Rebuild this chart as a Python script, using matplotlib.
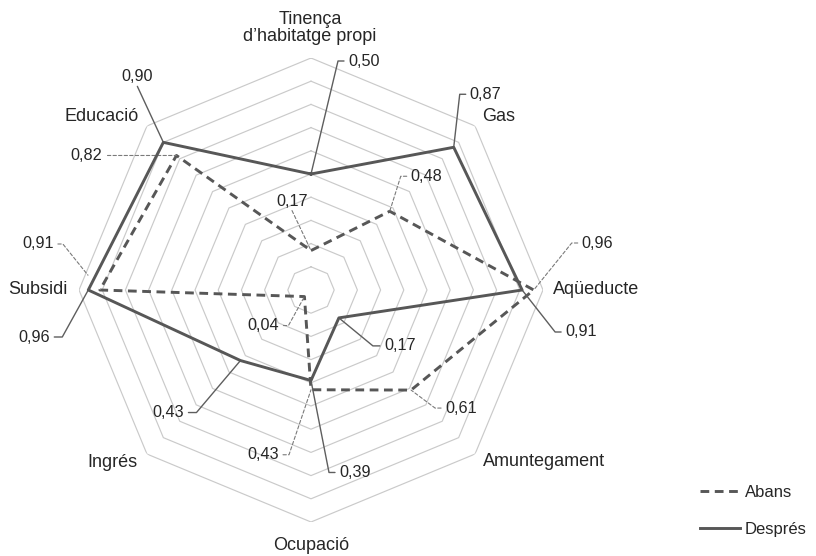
import numpy as np
import matplotlib
matplotlib.use("Agg")
import matplotlib.pyplot as plt

# ---- data ----
categories = ["Tinença\nd’habitatge propi", "Gas", "Aqüeducte", "Amuntegament",
              "Ocupació", "Ingrés", "Subsidi", "Educació"]
abans = [0.17, 0.48, 0.96, 0.61, 0.43, 0.04, 0.91, 0.82]
despres = [0.50, 0.87, 0.91, 0.17, 0.39, 0.43, 0.96, 0.90]
series_names = ["Abans", "Després"]
ring_levels = [0.1, 0.2, 0.3, 0.4, 0.5, 0.6, 0.7, 0.8, 0.9, 1.0]

# ---- style / layout ----
plt.rcParams["font.family"] = ["Liberation Sans", "DejaVu Sans"]
LINE_C = "#575757"
TEXT_C = "#262626"
GRID_C = "#cacaca"
W, H = 816, 556
CX, CY, R = 311, 290, 232  # centre and radius in pixels (y from top)

# label layouts: (mode, dx, dy, tick, gap_to_point) in pixels, y up
abans_layout = [("up", -19, 40, 0, 0), ("r", 11, 35, 6, 0), ("r", 38, 47, 6, 0),
                ("r", 24, -18, 6, 0), ("l", -22, -65, 6, 0), ("l", -16, -29, 5, 0),
                ("l", -37, 46, 5, 19), ("h", -69, 0, 0, 0)]
despres_layout = [("r", 27, 113, 6, 0), ("r", 6, 53, 6, 0), ("r", 33, -42, 6, 0),
                  ("r", 34, -28, 7, 0), ("r", 18, -92, 6, 0), ("l", -44, -52, 8, 0),
                  ("l", -26, -47, 8, 0), ("up", -26, 56, 0, 0)]
# category label offsets from outer vertex: (dx, dy, ha)
cat_layout = [(-1, 30, "center"), (7, 9, "left"), (10, 0, "left"), (8, -7, "left"),
              (0, -23, "center"), (-9, -8, "right"), (-11, 0, "right"), (-8, 9, "right")]

fig = plt.figure(figsize=(W / 100, H / 100), dpi=100)
ax = fig.add_axes([(CX - R) / W, (H - CY - R) / H, 2 * R / W, 2 * R / H], projection="polar")
ax.set_theta_zero_location("N")
ax.set_theta_direction(-1)
ax.set_ylim(0, 1)
ax.set_xticks([])
ax.set_yticks([])
ax.grid(False)
ax.spines["polar"].set_visible(False)
ax.patch.set_alpha(0)

n = len(categories)
theta = np.linspace(0, 2 * np.pi, n, endpoint=False)
theta_c = np.append(theta, theta[0])

for lv in ring_levels:
    ax.plot(theta_c, [lv] * (n + 1), color=GRID_C, lw=0.85, zorder=1)

l_ab, = ax.plot(theta_c, abans + abans[:1], color=LINE_C, lw=2.1,
                linestyle=(0, (3.0, 1.9)), zorder=3, label=series_names[0])
l_de, = ax.plot(theta_c, despres + despres[:1], color=LINE_C, lw=2.1,
                zorder=4, label=series_names[1])


def fmt(v):
    return f"{v:.2f}".replace(".", ",")


def add_labels(values, layout, dashed):
    lprops = dict(arrowstyle="-", color="#7a7a7a" if dashed else "#5e5e5e",
                  lw=0.8 if dashed else 1.0, shrinkA=0)
    if dashed:
        lprops["linestyle"] = (0, (3, 2))
    for t, v, (mode, dx, dy, tick, gap) in zip(theta, values, layout):
        props = dict(lprops, shrinkB=gap * 0.72)
        if mode in ("r", "l"):
            s = 1 if mode == "r" else -1
            ang = np.degrees(np.arctan2(dy, dx))
            props["connectionstyle"] = f"angle,angleA=0,angleB={ang:.2f},rad=0"
            ax.annotate("", xy=(t, v), xycoords="data", xytext=(dx + s * tick, dy),
                        textcoords="offset pixels", arrowprops=props, annotation_clip=False)
            ax.annotate(fmt(v), xy=(t, v), xycoords="data",
                        xytext=(dx + s * (tick + 4), dy), textcoords="offset pixels",
                        ha="left" if s > 0 else "right", va="center", fontsize=11.7,
                        color=TEXT_C, annotation_clip=False)
        elif mode == "h":
            ax.annotate("", xy=(t, v), xycoords="data", xytext=(dx, dy),
                        textcoords="offset pixels", arrowprops=props, annotation_clip=False)
            ax.annotate(fmt(v), xy=(t, v), xycoords="data", xytext=(dx - 5, dy),
                        textcoords="offset pixels", ha="right", va="center",
                        fontsize=11.7, color=TEXT_C, annotation_clip=False)
        else:  # up
            ax.annotate("", xy=(t, v), xycoords="data", xytext=(dx, dy),
                        textcoords="offset pixels", arrowprops=props, annotation_clip=False)
            ax.annotate(fmt(v), xy=(t, v), xycoords="data", xytext=(dx, dy + 2),
                        textcoords="offset pixels", ha="center", va="bottom",
                        fontsize=11.7, color=TEXT_C, annotation_clip=False)


add_labels(abans, abans_layout, True)
add_labels(despres, despres_layout, False)

for t, lab, (dx, dy, ha) in zip(theta, categories, cat_layout):
    ax.annotate(lab, xy=(t, 1.0), xycoords="data", xytext=(dx, dy),
                textcoords="offset pixels", ha=ha, va="center", fontsize=13,
                color=TEXT_C, linespacing=1.05, annotation_clip=False)

fig.legend(handles=[l_ab, l_de], labels=series_names, loc="upper left",
           bbox_to_anchor=(700 / W, 1 - 485 / H), frameon=False, fontsize=12,
           handlelength=2.4, handletextpad=0.3, labelspacing=1.3,
           borderpad=0, borderaxespad=0, labelcolor=TEXT_C)

fig.savefig("out.png", dpi=100, facecolor="white")
